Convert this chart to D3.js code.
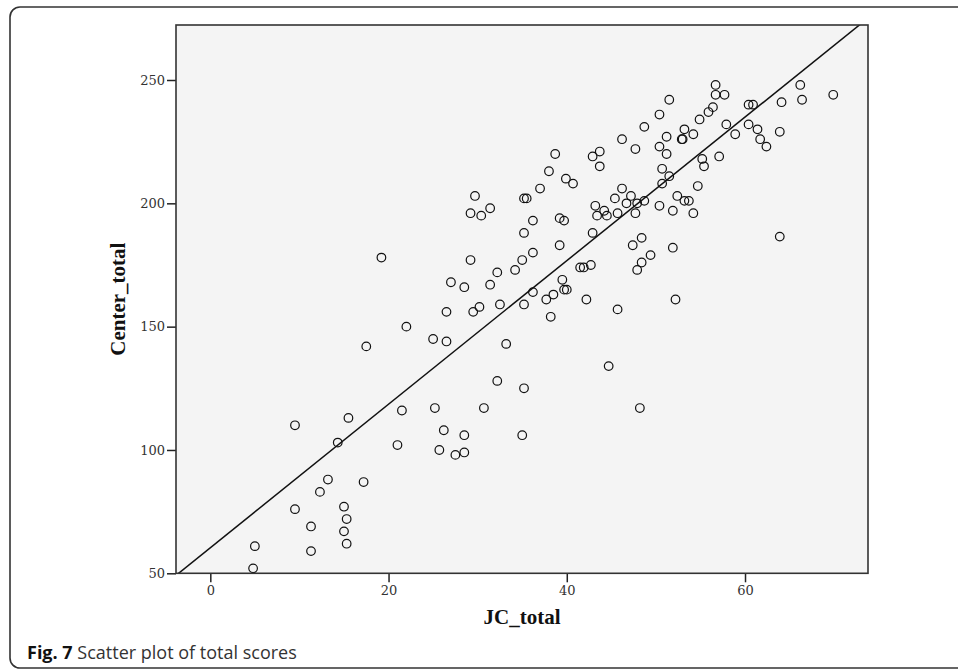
<!DOCTYPE html>
<html>
<head>
<meta charset="utf-8">
<script src="https://d3js.org/d3.v7.min.js"></script>
<style>
  body { margin: 0; background: #fff; }
  svg { display: block; }
</style>
</head>
<body>
<div id="chart"></div>
<script>
// JC_total vs Center_total
var jcTotal = [
  29.7, 29.2, 30.4, 31.4, 35.2, 35.5, 36.2, 35.2, 37.0, 38.0, 38.7, 39.9, 40.7, 39.2, 39.7,
  42.9, 43.7, 43.7, 46.2, 47.7, 48.7, 43.2, 44.2, 43.4, 44.5, 45.7, 42.9, 46.2, 45.4, 47.2,
  46.7, 47.9, 48.7, 47.7, 48.4,
  47.4, 49.4, 48.4, 47.9, 39.2, 36.2, 35.0, 29.2, 32.2, 34.2, 31.4, 27.0, 28.5, 41.5, 41.9,
  42.7, 39.5, 39.7, 40.0, 36.2, 38.5, 37.7, 42.2, 45.7, 38.2, 35.2, 32.5, 30.2, 29.5, 26.5,
  22.0, 25.0, 26.5, 33.2, 44.7, 32.2, 35.2,
  21.5, 25.2, 30.7, 48.2, 26.2, 28.5, 35.0, 25.7, 27.5, 28.5,
  9.5, 15.5, 14.3, 21.0, 13.2, 12.3, 17.2, 9.5, 15.0, 15.3, 11.3, 15.0, 15.3, 5.0, 11.3, 4.8,
  19.2, 17.5,
  56.7, 56.7, 57.7, 51.5, 50.4, 56.4, 55.9, 54.9, 60.4, 60.9, 64.1, 66.2, 66.4, 69.9, 57.9,
  58.9, 60.4, 61.4, 61.7, 62.4, 63.9, 53.2, 54.2, 52.9, 53.0, 51.2, 50.4, 51.2, 50.7, 51.5,
  50.7, 55.2, 55.4, 57.1, 54.7, 52.4, 53.2, 53.7, 50.4, 51.9, 54.2, 63.9,
  51.9, 52.2
];
var centerTotal = [
  203, 196, 195, 198, 202, 202, 193, 188, 206, 213, 220, 210, 208, 194, 193,
  219, 221, 215, 226, 222, 231, 199, 197, 195, 195, 196, 188, 206, 202, 203,
  200, 200, 201, 196, 186,
  183, 179, 176, 173, 183, 180, 177, 177, 172, 173, 167, 168, 166, 174, 174,
  175, 169, 165, 165, 164, 163, 161, 161, 157, 154, 159, 159, 158, 156, 156,
  150, 145, 144, 143, 134, 128, 125,
  116, 117, 117, 117, 108, 106, 106, 100, 98, 99,
  110, 113, 103, 102, 88, 83, 87, 76, 77, 72, 69, 67, 62, 61, 59, 52,
  178, 142,
  248, 244, 244, 242, 236, 239, 237, 234, 240, 240, 241, 248, 242, 244, 232,
  228, 232, 230, 226, 223, 229, 230, 228, 226, 226, 227, 223, 220, 214, 211,
  208, 218, 215, 219, 207, 203, 201, 201, 199, 197, 196, 186.5,
  182, 161
];

// fit line (intercept, slope) as drawn in the figure
var fitIntercept = 60.35;
var fitSlope = 2.91;

var xTicks = [0, 20, 40, 60];
var yTicks = [50, 100, 150, 200, 250];
var xDomain = [-3.85, 73.8];
var yDomain = [50, 272.3];

var width = 958, height = 670;
var plot = { left: 176, right: 868, top: 25, bottom: 573.3 };

var svg = d3.select('#chart').append('svg')
  .attr('width', width)
  .attr('height', height);

// outer frame
svg.append('rect')
  .attr('x', 10).attr('y', 7)
  .attr('width', 980).attr('height', 661)
  .attr('rx', 10).attr('ry', 10)
  .attr('fill', 'none')
  .attr('stroke', '#333')
  .attr('stroke-width', 1.6);

var x = d3.scaleLinear().domain(xDomain).range([plot.left, plot.right]);
var y = d3.scaleLinear().domain(yDomain).range([plot.bottom, plot.top]);

svg.append('rect')
  .attr('x', plot.left).attr('y', plot.top)
  .attr('width', plot.right - plot.left)
  .attr('height', plot.bottom - plot.top)
  .attr('fill', '#f4f4f4');

svg.append('clipPath').attr('id', 'clip')
  .append('rect')
  .attr('x', plot.left).attr('y', plot.top)
  .attr('width', plot.right - plot.left)
  .attr('height', plot.bottom - plot.top);

// points
var data = jcTotal.map(function(d, i) { return { x: d, y: centerTotal[i] }; });

svg.append('g')
  .selectAll('circle')
  .data(data)
  .enter().append('circle')
  .attr('cx', function(d) { return x(d.x); })
  .attr('cy', function(d) { return y(d.y); })
  .attr('r', 4.3)
  .attr('fill', 'none')
  .attr('stroke', '#111')
  .attr('stroke-width', 1.2);

// fit line
var line = d3.line()
  .x(function(d) { return x(d); })
  .y(function(d) { return y(fitIntercept + fitSlope * d); });

svg.append('path')
  .datum(xDomain)
  .attr('clip-path', 'url(#clip)')
  .attr('d', line)
  .attr('fill', 'none')
  .attr('stroke', '#111')
  .attr('stroke-width', 1.5);

// axes
var xAxis = d3.axisBottom(x).tickValues(xTicks).tickSize(9).tickPadding(3);
var yAxis = d3.axisLeft(y).tickValues(yTicks).tickSize(9).tickPadding(2);

var gx = svg.append('g')
  .attr('transform', 'translate(0,' + plot.bottom + ')')
  .call(xAxis);
var gy = svg.append('g')
  .attr('transform', 'translate(' + plot.left + ',0)')
  .call(yAxis);

[gx, gy].forEach(function(g) {
  g.select('.domain').remove();
  g.selectAll('.tick line').attr('stroke', '#222').attr('stroke-width', 1.5);
  g.selectAll('.tick text')
    .attr('fill', '#333')
    .style('font-family', '"DejaVu Serif", serif')
    .style('font-size', '13px');
});

// plot frame
svg.append('rect')
  .attr('x', plot.left).attr('y', plot.top)
  .attr('width', plot.right - plot.left)
  .attr('height', plot.bottom - plot.top)
  .attr('fill', 'none')
  .attr('stroke', '#333')
  .attr('stroke-width', 1.6);

// axis titles
svg.append('text')
  .attr('x', (plot.left + plot.right) / 2)
  .attr('y', 624)
  .attr('text-anchor', 'middle')
  .style('font-family', '"Liberation Serif", serif')
  .style('font-weight', 'bold')
  .style('font-size', '21px')
  .attr('fill', '#111')
  .text('JC_total');

svg.append('text')
  .attr('transform', 'translate(125,' + ((plot.top + plot.bottom) / 2) + ') rotate(-90)')
  .attr('text-anchor', 'middle')
  .style('font-family', '"Liberation Serif", serif')
  .style('font-weight', 'bold')
  .style('font-size', '21px')
  .attr('fill', '#111')
  .text('Center_total');

// caption
var cap = svg.append('text')
  .attr('x', 27)
  .attr('y', 659)
  .style('font-family', '"Open Sans", sans-serif')
  .style('font-size', '18px')
  .attr('fill', '#333');
cap.append('tspan').style('font-weight', 'bold').attr('fill', '#111').text('Fig. 7');
cap.append('tspan').text(' Scatter plot of total scores');

// squeeze caption to the width seen in the figure
var capW = cap.node().getComputedTextLength();
if (capW > 281) cap.style('font-size', (18 * 281 / capW) + 'px');
</script>
</body>
</html>
